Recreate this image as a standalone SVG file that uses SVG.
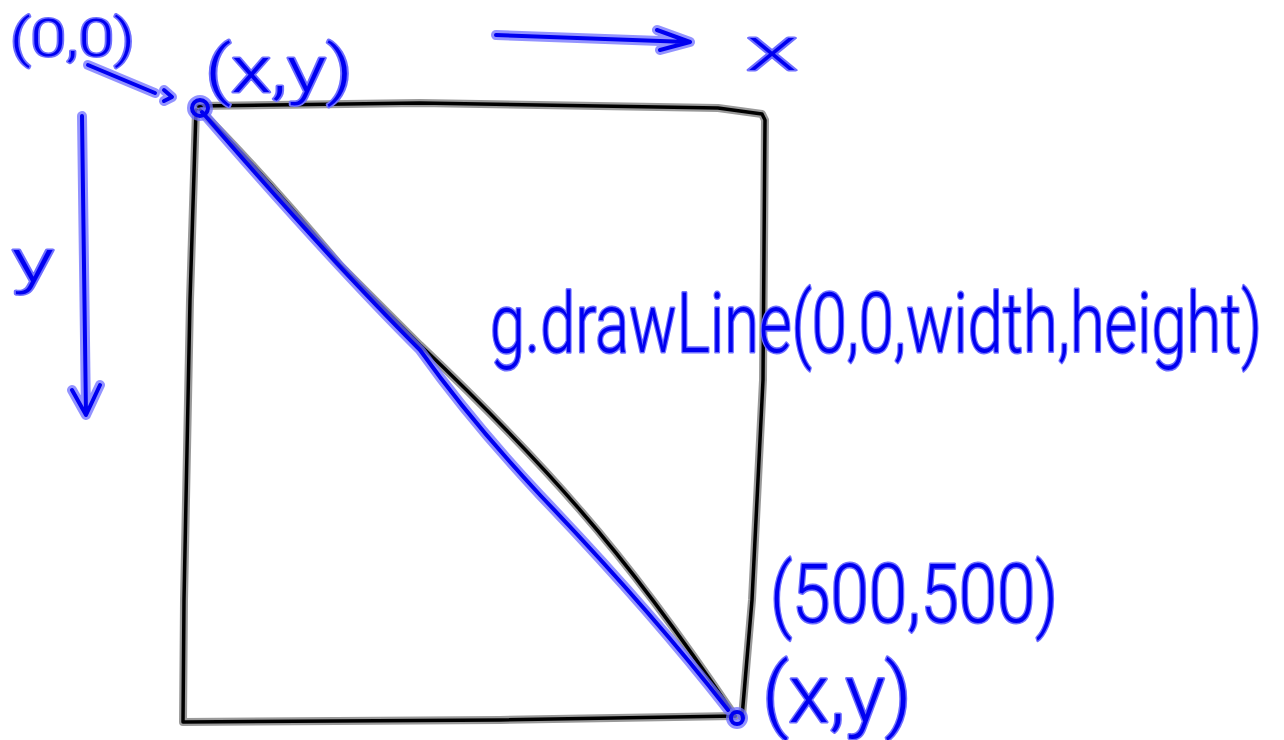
<svg xmlns="http://www.w3.org/2000/svg" width="1284" height="740" viewBox="0 0 1284 740">
<style>
.kh{fill:none;stroke:#9a9a9a;stroke-width:8;stroke-linecap:round;stroke-linejoin:round}
.k{fill:none;stroke:#000;stroke-width:3.5;stroke-linecap:round;stroke-linejoin:round}
.bh{fill:none;stroke:#6f6fff;stroke-width:10;stroke-linecap:round;stroke-linejoin:round;opacity:.75}
.b{fill:none;stroke:#0000f0;stroke-width:4;stroke-linecap:round;stroke-linejoin:round}
.t{font-family:Roboto,"Open Sans","DejaVu Sans",sans-serif;font-weight:300;fill:#0000f0;stroke:#7070ff;stroke-width:3;paint-order:stroke;stroke-linejoin:round}
</style>
<rect width="1284" height="740" fill="#fff"/>
<g id="frame">
<path class="kh" d="M198,106 L420,103 L718,108 L762,114 L765,120 L763,380 L752,600 L742,717"/>
<path class="kh" d="M196,110 L190,300 L186,500 L184,600 L183,722 L500,720 L735,716"/>
<path class="kh" d="M200,110 Q260,170 340,265 L420,345 Q520,440 580,510 Q650,590 735,716"/>
<path class="k" d="M198,106 L420,103 L718,108 L762,114 L765,120 L763,380 L752,600 L742,717"/>
<path class="k" d="M196,110 L190,300 L186,500 L184,600 L183,722 L500,720 L735,716"/>
<path class="k" d="M200,110 Q260,170 340,265 L420,345 Q520,440 580,510 Q650,590 735,716"/>
</g>
<g id="connectors">
<path class="bh" d="M202,112 Q330,260 420,350 Q470,420 540,495 Q650,610 728,710"/>
<path class="bh" d="M88,65 L155,93 M164,90 L172,97 L164,101"/>
<path class="bh" d="M496,35 L688,42 M657,30 L690,42 L660,50"/>
<path class="bh" d="M82,116 L86,415 M72,390 L86,415 L100,385"/>
<circle class="bh" cx="200" cy="108" r="8"/>
<circle class="bh" cx="737" cy="718" r="6"/>
<path class="b" d="M202,112 Q330,260 420,350 Q470,420 540,495 Q650,610 728,710"/>
<path class="b" d="M88,65 L155,93 M164,90 L172,97 L164,101"/>
<path class="b" d="M496,35 L688,42 M657,30 L690,42 L660,50"/>
<path class="b" d="M82,116 L86,415 M72,390 L86,415 L100,385"/>
<circle class="b" cx="200" cy="108" r="8"/>
<circle class="b" cx="737" cy="718" r="6"/>
</g>
<g id="label-origin"><text class="t" x="10" y="56" font-size="52" textLength="125" lengthAdjust="spacingAndGlyphs">(0,0)</text></g>
<g id="label-xy-top"><text class="t" x="205" y="92" font-size="64" textLength="148" lengthAdjust="spacingAndGlyphs">(x,y)</text></g>
<g id="label-x"><text class="t" x="747" y="70" font-size="44" textLength="50" lengthAdjust="spacingAndGlyphs">X</text></g>
<g id="label-y"><text class="t" x="12" y="282" font-size="62" textLength="42" lengthAdjust="spacingAndGlyphs">y</text></g>
<g id="label-call"><text class="t" x="490" y="352" font-size="84" textLength="772" lengthAdjust="spacingAndGlyphs">g.drawLine(0,0,width,height)</text></g>
<g id="label-500"><text class="t" x="770" y="622" font-size="82" textLength="288" lengthAdjust="spacingAndGlyphs">(500,500)</text></g>
<g id="label-xy-bottom"><text class="t" x="762" y="722" font-size="82" textLength="150" lengthAdjust="spacingAndGlyphs">(x,y)</text></g>
</svg>
